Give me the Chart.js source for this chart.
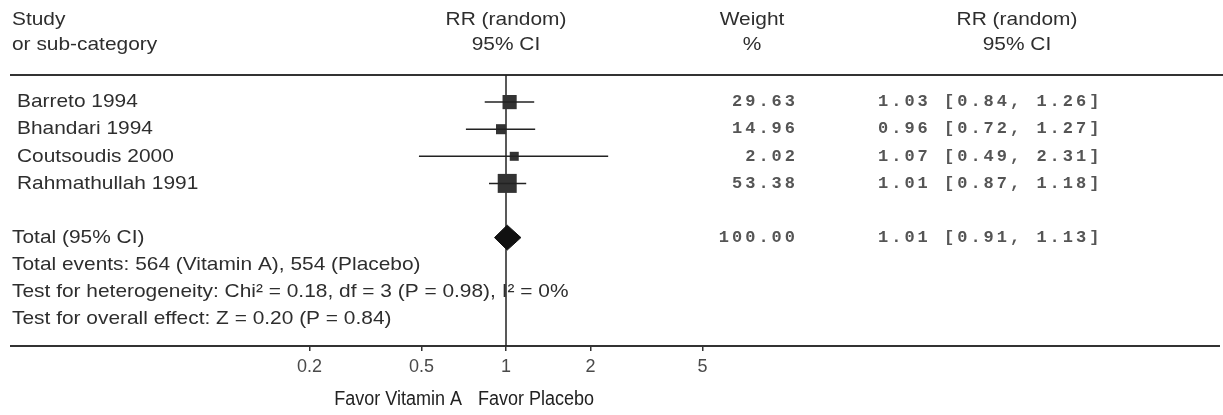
<!DOCTYPE html>
<html>
<head>
<meta charset="utf-8">
<script src="https://cdn.jsdelivr.net/npm/chart.js@4"></script>
<style>
  html, body { margin: 0; padding: 0; background: #fff; }
  #wrap { width: 1223px; height: 415px; }
</style>
</head>
<body>
<div id="wrap"><canvas id="forest" width="1223" height="415"></canvas></div>
<script>
// forest plot data
const studies = ['Barreto 1994', 'Bhandari 1994', 'Coutsoudis 2000', 'Rahmathullah 1991'];
const rr = [1.03, 0.96, 1.07, 1.01];
const ciLow = [0.84, 0.72, 0.49, 0.87];
const ciHigh = [1.26, 1.27, 2.31, 1.18];
const weights = [29.63, 14.96, 2.02, 53.38];
const totalLabel = 'Total (95% CI)';
const totalRR = [1.01];
const totalLow = [0.91];
const totalHigh = [1.13];
const totalWeight = [100.00];
const tickValues = [0.2, 0.5, 1, 2, 5];
const footLines = [
    'Total events: 564 (Vitamin A), 554 (Placebo)',
    'Test for heterogeneity: Chi\u00B2 = 0.18, df = 3 (P = 0.98), I\u00B2 = 0%',
    'Test for overall effect: Z = 0.20 (P = 0.84)'
];
const favorLeft = 'Favor Vitamin A';
const favorRight = 'Favor Placebo';

const SANS = '"Liberation Sans", Arial, sans-serif';
const MONO = '"Liberation Mono", "Courier New", monospace';
const INK = '#2e2e2e';

const TOTAL_ROW = 6;

// one line dataset per confidence interval
const ciSets = studies.map((s, i) => ({
    label: s,
    data: [{ x: ciLow[i], y: i + 1 }, { x: ciHigh[i], y: i + 1 }],
    showLine: true,
    borderColor: '#222',
    borderWidth: 1.5,
    pointRadius: 0
}));

// square side grows with weight, with a minimum
const sides = weights.map(w => Math.max(9, 19 * Math.sqrt(w / Math.max(...weights))));

const squareSet = {
    label: 'RR',
    data: rr.map((v, i) => ({ x: v, y: i + 1 })),
    pointStyle: 'rect',
    pointRadius: sides.map(s => s / Math.SQRT2),
    backgroundColor: '#333',
    borderWidth: 0
};

const h = 0.46;
const diamondSet = {
    label: 'Total',
    data: [
        { x: totalLow[0], y: TOTAL_ROW },
        { x: totalRR[0], y: TOTAL_ROW - h },
        { x: totalHigh[0], y: TOTAL_ROW },
        { x: totalRR[0], y: TOTAL_ROW + h },
        { x: totalLow[0], y: TOTAL_ROW }
    ],
    showLine: true,
    fill: 'shape',
    backgroundColor: '#111',
    borderColor: '#111',
    borderWidth: 1,
    pointRadius: 0
};

/**
 * Draws text stretched horizontally by sx (the original type is wide).
 */
function stretchText(ctx, text, x, y, sx, align) {
    const w = ctx.measureText(text).width * sx;
    let left = x;
    if (align === 'center') left = x - w / 2;
    if (align === 'right') left = x - w;
    ctx.save();
    ctx.textAlign = 'left';
    ctx.translate(left, y);
    ctx.scale(sx, 1);
    ctx.fillText(text, 0, 0);
    ctx.restore();
}

const framePlugin = {
    id: 'frame',
    beforeDatasetsDraw(chart) {
        const { ctx, chartArea } = chart;
        const x1 = chart.scales.x.getPixelForValue(1);
        ctx.save();
        ctx.strokeStyle = '#333';
        ctx.lineWidth = 2;
        ctx.beginPath();
        ctx.moveTo(10, chartArea.top);
        ctx.lineTo(1223, chartArea.top);
        ctx.stroke();
        ctx.beginPath();
        ctx.moveTo(10, chartArea.bottom);
        ctx.lineTo(1220, chartArea.bottom);
        ctx.stroke();
        ctx.lineWidth = 1.5;
        ctx.strokeStyle = '#222';
        ctx.beginPath();
        ctx.moveTo(x1, chartArea.top);
        ctx.lineTo(x1, chartArea.bottom);
        ctx.stroke();
        ctx.restore();
    },
    afterDraw(chart) {
        const { ctx } = chart;
        const yS = chart.scales.y;
        const x1 = chart.scales.x.getPixelForValue(1);
        const SX = 1.1;
        ctx.save();
        ctx.fillStyle = INK;
        ctx.textBaseline = 'middle';

        // headers
        ctx.font = '19px ' + SANS;
        stretchText(ctx, 'Study', 12, 20, SX, 'left');
        stretchText(ctx, 'or sub-category', 12, 45, SX, 'left');
        stretchText(ctx, 'RR (random)', x1, 20, SX, 'center');
        stretchText(ctx, '95% CI', x1, 45, SX, 'center');
        stretchText(ctx, 'Weight', 752, 20, SX, 'center');
        stretchText(ctx, '%', 752, 45, SX, 'center');
        stretchText(ctx, 'RR (random)', 1017, 20, SX, 'center');
        stretchText(ctx, '95% CI', 1017, 45, SX, 'center');

        // study names and footer lines
        studies.forEach((s, i) => stretchText(ctx, s, 17, yS.getPixelForValue(i + 1), SX, 'left'));
        stretchText(ctx, totalLabel, 12, yS.getPixelForValue(TOTAL_ROW), SX, 'left');
        footLines.forEach((t, i) => stretchText(ctx, t, 12, yS.getPixelForValue(TOTAL_ROW + 1 + i), SX, 'left'));

        // numeric columns
        ctx.font = 'bold 17px ' + MONO;
        ctx.letterSpacing = '3px';
        ctx.fillStyle = '#555';
        const fmt = v => v.toFixed(2);
        weights.forEach((w, i) => {
            const y = yS.getPixelForValue(i + 1);
            ctx.textAlign = 'right';
            ctx.fillText(fmt(w), 798, y);
            ctx.textAlign = 'left';
            ctx.fillText(`${fmt(rr[i])} [${fmt(ciLow[i])}, ${fmt(ciHigh[i])}]`, 878, y);
        });
        const yt = yS.getPixelForValue(TOTAL_ROW);
        ctx.textAlign = 'right';
        ctx.fillText(fmt(totalWeight[0]), 798, yt);
        ctx.textAlign = 'left';
        ctx.fillText(`${fmt(totalRR[0])} [${fmt(totalLow[0])}, ${fmt(totalHigh[0])}]`, 878, yt);
        ctx.letterSpacing = '0px';

        // favour labels, narrow and tall
        ctx.fillStyle = '#222';
        ctx.font = '20px ' + SANS;
        stretchText(ctx, favorLeft, x1 - 44, 399, 0.9, 'right');
        stretchText(ctx, favorRight, x1 - 28, 399, 0.9, 'left');
        ctx.restore();
    }
};

new Chart(document.getElementById('forest'), {
    type: 'scatter',
    data: { datasets: [...ciSets, squareSet, diamondSet] },
    options: {
        responsive: false,
        animation: false,
        layout: { padding: { left: 225, right: 436, top: 75, bottom: 0 } },
        plugins: { legend: { display: false }, tooltip: { enabled: false } },
        scales: {
            x: {
                type: 'logarithmic',
                min: 0.1,
                max: 10,
                afterBuildTicks: scale => { scale.ticks = tickValues.map(v => ({ value: v })); },
                afterFit: scale => { scale.height = 69; },
                border: { display: false },
                grid: { drawOnChartArea: false, drawTicks: true, tickLength: 5, color: '#333', lineWidth: 1.5 },
                ticks: {
                    autoSkip: false,
                    maxRotation: 0,
                    padding: 5,
                    color: '#4a4a4a',
                    font: { family: SANS, size: 18 },
                    callback: v => String(v)
                }
            },
            y: { type: 'linear', min: 0, max: 10, reverse: true, display: false }
        }
    },
    plugins: [framePlugin]
});
</script>
</body>
</html>
